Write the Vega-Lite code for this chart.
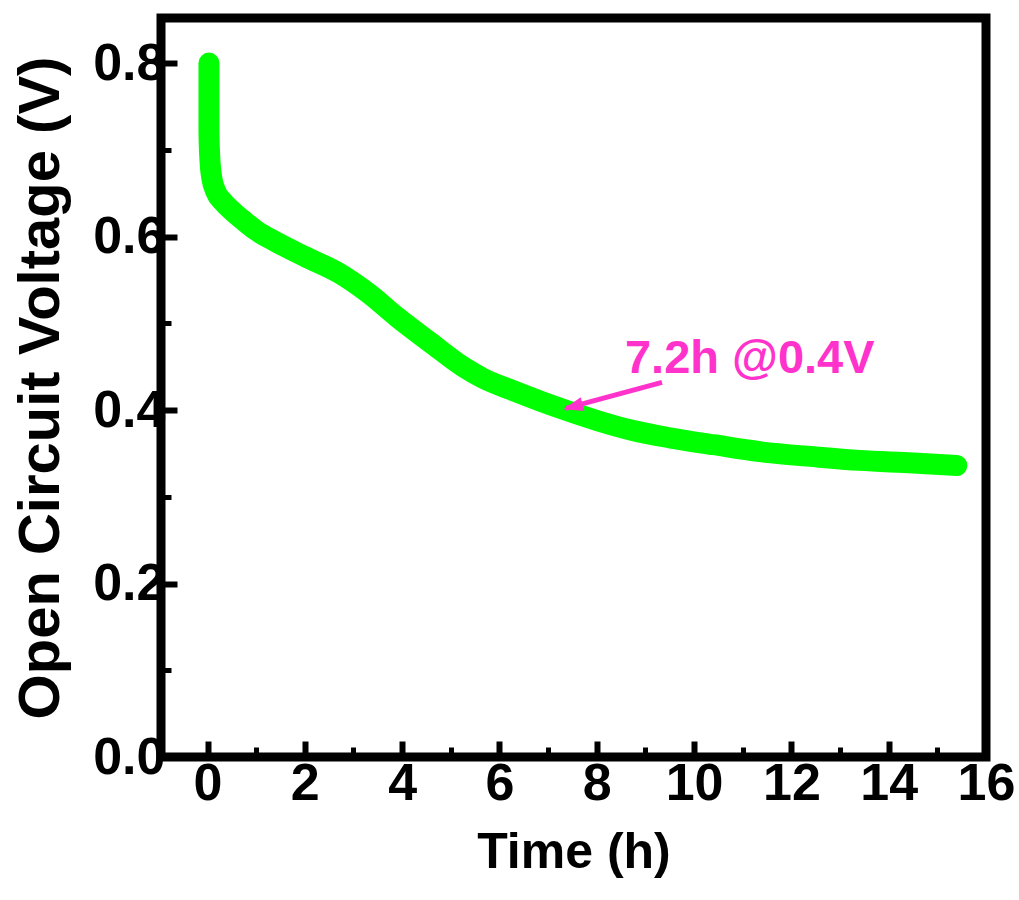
{
  "$schema": "https://vega.github.io/schema/vega-lite/v6.json",
  "width": 825,
  "height": 739,
  "autosize": {"type": "none"},
  "padding": {"left": 161, "top": 18, "right": 33, "bottom": 143},
  "background": "white",
  "config": {
    "view": {"stroke": "black", "strokeWidth": 9},
    "font": "Liberation Sans",
    "axis": {
      "domain": false,
      "grid": false,
      "labelFont": "Liberation Sans",
      "labelFontWeight": "bold",
      "labelFontSize": 52,
      "labelColor": "black",
      "tickColor": "black",
      "titleFont": "Liberation Sans",
      "titleFontWeight": "bold",
      "titleColor": "black"
    }
  },
  "datasets": {
    "ocv": [
      {"t": 0.03, "v": 0.800},
      {"t": 0.03, "v": 0.760},
      {"t": 0.03, "v": 0.720},
      {"t": 0.05, "v": 0.688},
      {"t": 0.09, "v": 0.667},
      {"t": 0.17, "v": 0.652},
      {"t": 0.32, "v": 0.640},
      {"t": 0.50, "v": 0.630},
      {"t": 0.75, "v": 0.618},
      {"t": 1.00, "v": 0.607},
      {"t": 1.40, "v": 0.594},
      {"t": 2.00, "v": 0.577},
      {"t": 2.70, "v": 0.558},
      {"t": 3.30, "v": 0.535},
      {"t": 3.90, "v": 0.507},
      {"t": 4.60, "v": 0.477},
      {"t": 5.25, "v": 0.450},
      {"t": 5.65, "v": 0.437},
      {"t": 6.30, "v": 0.422},
      {"t": 7.30, "v": 0.401},
      {"t": 8.00, "v": 0.388},
      {"t": 8.70, "v": 0.377},
      {"t": 9.50, "v": 0.368},
      {"t": 10.40, "v": 0.360},
      {"t": 11.35, "v": 0.352},
      {"t": 12.50, "v": 0.346},
      {"t": 13.40, "v": 0.342},
      {"t": 14.50, "v": 0.339},
      {"t": 15.40, "v": 0.336}
    ],
    "arrow": [
      {"x1": 9.34, "y1": 0.432, "x2": 7.36, "y2": 0.402}
    ],
    "head": [
      {"x": 7.31, "y": 0.401}
    ],
    "note": [
      {"x": 8.58, "y": 0.4427, "label": "7.2h @0.4V"}
    ]
  },
  "resolve": {"axis": {"x": "independent", "y": "independent"}},
  "layer": [
    {
      "data": {"name": "ocv"},
      "mark": {"type": "line", "color": "#00ff00", "strokeWidth": 21, "strokeCap": "round", "strokeJoin": "round", "interpolate": "monotone"},
      "encoding": {
        "x": {
          "field": "t", "type": "quantitative",
          "scale": {"domain": [-0.956, 16], "nice": false, "zero": false},
          "axis": {
            "orient": "bottom",
            "values": [0, 2, 4, 6, 8, 10, 12, 14, 16],
            "tickSize": -16, "tickWidth": 6,
            "labelPadding": 17,
            "labelFlush": false,
            "labelOverlap": false,
            "title": "Time (h)",
            "titleFontSize": 50,
            "titlePadding": 18
          }
        },
        "y": {
          "field": "v", "type": "quantitative",
          "scale": {"domain": [0, 0.852], "nice": false, "zero": false},
          "axis": {
            "orient": "left",
            "values": [0, 0.2, 0.4, 0.6, 0.8],
            "format": ".1f",
            "tickSize": -16, "tickWidth": 6,
            "labelPadding": 12,
            "labelFlush": false,
            "labelOverlap": false,
            "title": "Open Circuit Voltage (V)",
            "titleFontSize": 58,
            "titlePadding": 22
          }
        }
      }
    },
    {
      "data": {"name": "ocv"},
      "mark": {"type": "line", "opacity": 0},
      "encoding": {
        "x": {
          "field": "t", "type": "quantitative",
          "axis": {
            "orient": "bottom",
            "values": [1, 3, 5, 7, 9, 11, 13, 15],
            "tickSize": -10, "tickWidth": 5,
            "labels": false,
            "title": null
          }
        },
        "y": {
          "field": "v", "type": "quantitative",
          "axis": {
            "orient": "left",
            "values": [0.1, 0.3, 0.5, 0.7],
            "tickSize": -10, "tickWidth": 5,
            "labels": false,
            "title": null
          }
        }
      }
    },
    {
      "data": {"name": "arrow"},
      "mark": {"type": "rule", "color": "#ff33cc", "strokeWidth": 5},
      "encoding": {
        "x": {"field": "x1", "type": "quantitative", "axis": null},
        "y": {"field": "y1", "type": "quantitative", "axis": null},
        "x2": {"field": "x2"},
        "y2": {"field": "y2"}
      }
    },
    {
      "data": {"name": "head"},
      "mark": {"type": "point", "shape": "M0,0 L0.7,2 L-0.7,2 Z", "filled": true, "color": "#ff33cc", "opacity": 1, "size": 400, "angle": 255.3},
      "encoding": {
        "x": {"field": "x", "type": "quantitative", "axis": null},
        "y": {"field": "y", "type": "quantitative", "axis": null}
      }
    },
    {
      "data": {"name": "note"},
      "mark": {"type": "text", "color": "#ff33cc", "font": "Liberation Sans", "fontWeight": "bold", "fontSize": 47, "align": "left", "baseline": "alphabetic"},
      "encoding": {
        "x": {"field": "x", "type": "quantitative", "axis": null},
        "y": {"field": "y", "type": "quantitative", "axis": null},
        "text": {"field": "label"}
      }
    }
  ]
}
